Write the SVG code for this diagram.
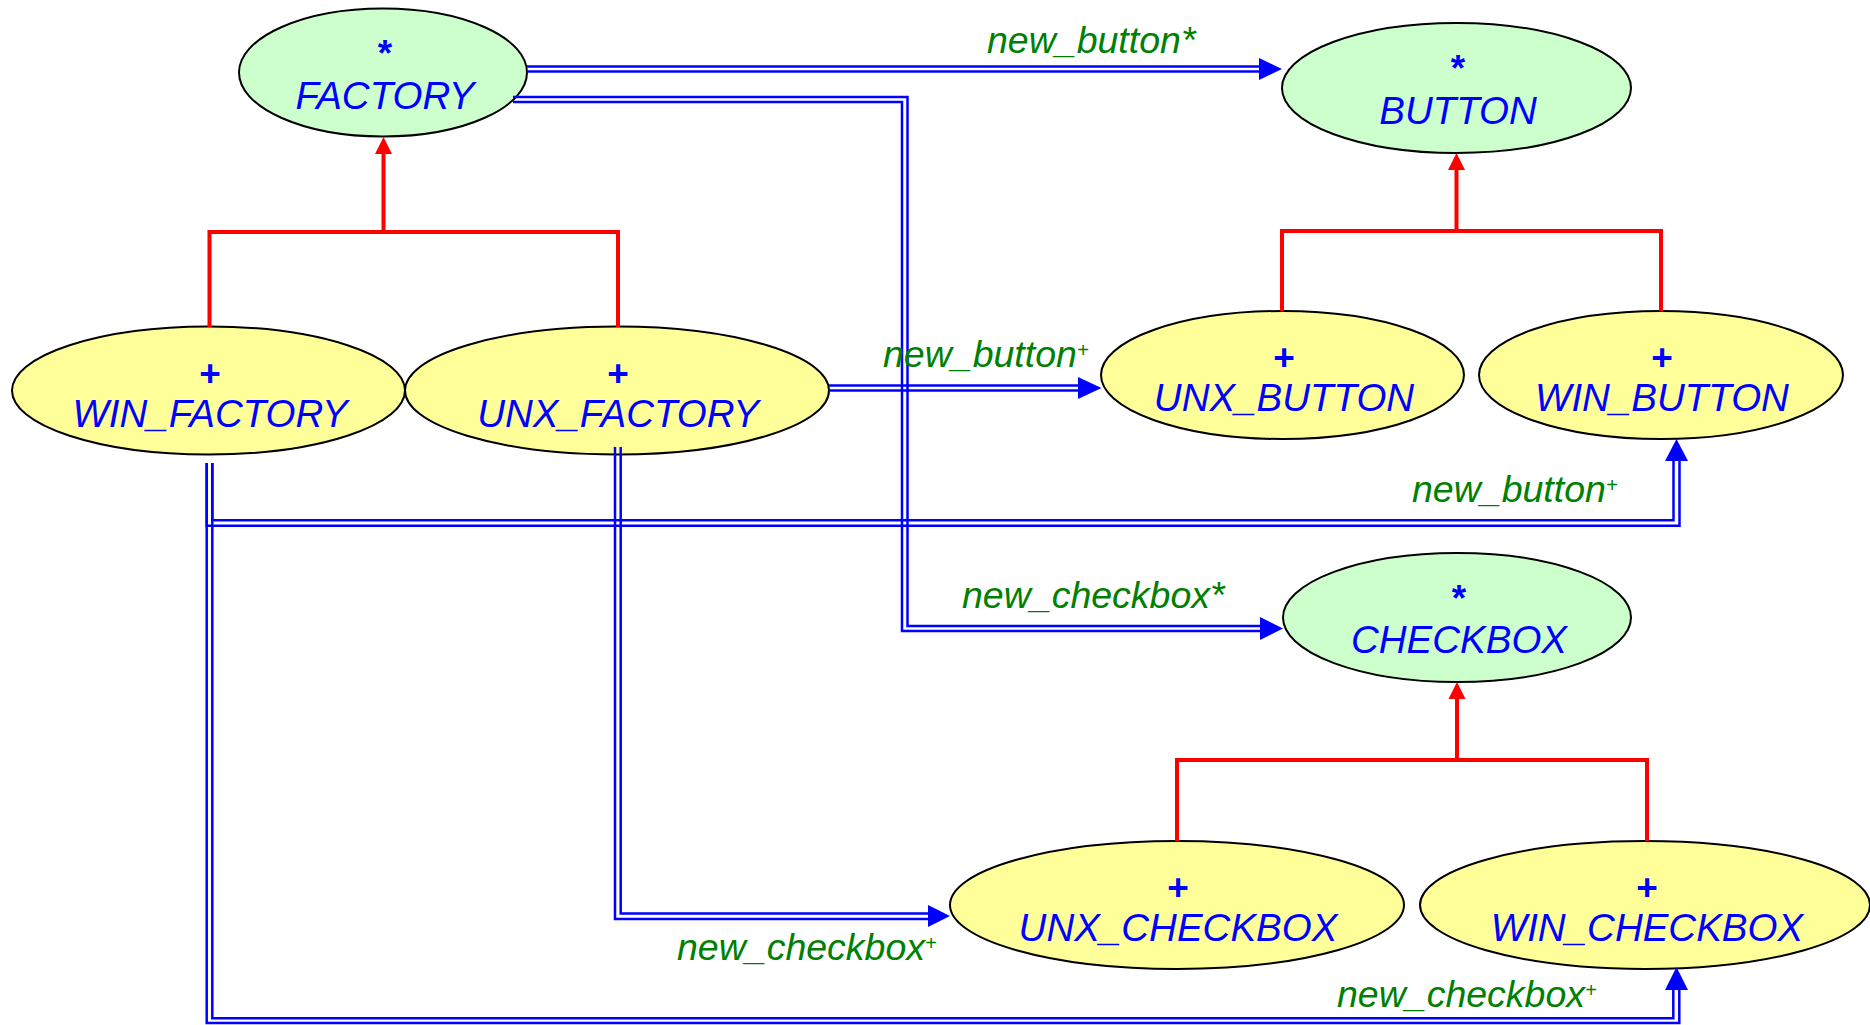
<svg xmlns="http://www.w3.org/2000/svg" width="1870" height="1025" viewBox="0 0 1870 1025">
  <style>
    .deferred { fill: #ccffcc; stroke: #000000; stroke-width: 2; }
    .effective { fill: #ffff99; stroke: #000000; stroke-width: 2; }
    .mark { font-family: "Liberation Sans", Arial, sans-serif; font-size: 37px; font-weight: bold; fill: #0000ff; text-anchor: middle; }
    .name { font-family: "Liberation Sans", Arial, sans-serif; font-size: 38.5px; font-style: italic; fill: #0000ff; text-anchor: middle; }
    .label { font-family: "Liberation Sans", Arial, sans-serif; font-size: 37.5px; font-style: italic; fill: #008000; }
    .sup { font-size: 20px; }
    .inherit { fill: none; stroke: #ff0000; stroke-width: 4; }
    .inherit-head { fill: #ff0000; }
    .client { fill: none; stroke: #0000ff; stroke-width: 2.5; }
    .client-head { fill: #0000ff; }
  </style>

  <!-- classes -->
  <g id="factory">
    <ellipse class="deferred" cx="383" cy="72.5" rx="144" ry="64"/>
    <text class="mark" x="385" y="66">*</text>
    <text class="name" x="385" y="109">FACTORY</text>
  </g>
  <g id="button">
    <ellipse class="deferred" cx="1456.5" cy="88" rx="174.5" ry="65"/>
    <text class="mark" x="1458" y="81">*</text>
    <text class="name" x="1458" y="124">BUTTON</text>
  </g>
  <g id="win_factory">
    <ellipse class="effective" cx="208.5" cy="390.5" rx="196.5" ry="64"/>
    <text class="mark" x="210" y="386">+</text>
    <text class="name" x="210" y="427">WIN_FACTORY</text>
  </g>
  <g id="unx_factory">
    <ellipse class="effective" cx="617" cy="390.5" rx="212" ry="64"/>
    <text class="mark" x="618" y="386">+</text>
    <text class="name" x="618" y="427">UNX_FACTORY</text>
  </g>
  <g id="unx_button">
    <ellipse class="effective" cx="1282.5" cy="375" rx="181.5" ry="64"/>
    <text class="mark" x="1284" y="370">+</text>
    <text class="name" x="1284" y="411">UNX_BUTTON</text>
  </g>
  <g id="win_button">
    <ellipse class="effective" cx="1661" cy="375" rx="182" ry="64"/>
    <text class="mark" x="1662" y="370">+</text>
    <text class="name" x="1662" y="411">WIN_BUTTON</text>
  </g>
  <g id="checkbox">
    <ellipse class="deferred" cx="1457" cy="617.5" rx="174" ry="64.5"/>
    <text class="mark" x="1459" y="611">*</text>
    <text class="name" x="1459" y="653">CHECKBOX</text>
  </g>
  <g id="unx_checkbox">
    <ellipse class="effective" cx="1177" cy="905" rx="227" ry="64"/>
    <text class="mark" x="1178" y="900">+</text>
    <text class="name" x="1178" y="941">UNX_CHECKBOX</text>
  </g>
  <g id="win_checkbox">
    <ellipse class="effective" cx="1645" cy="905" rx="225" ry="64"/>
    <text class="mark" x="1647" y="900">+</text>
    <text class="name" x="1647" y="941">WIN_CHECKBOX</text>
  </g>

  <!-- connectors -->
  <g id="connectors">
    <!-- inheritance -->
    <path class="inherit" d="M209.5,327 V232 H618 V327 M383.5,232 V151"/>
    <polygon class="inherit-head" points="383.5,137 392,154 375,154"/>
    <path class="inherit" d="M1282,311 V231 H1661 V311 M1456.5,231 V167"/>
    <polygon class="inherit-head" points="1456.5,153 1465,170 1448,170"/>
    <path class="inherit" d="M1177,841 V760 H1647 V841 M1457,760 V696"/>
    <polygon class="inherit-head" points="1457,682 1465.5,699 1448.5,699"/>

    <!-- FACTORY to BUTTON: new_button* -->
    <polyline class="client" points="527,66.5 1260,66.5"/>
    <polyline class="client" points="527,71.5 1260,71.5"/>
    <polygon class="client-head" points="1259,58 1282,69 1259,80"/>

    <!-- FACTORY to CHECKBOX: new_checkbox* -->
    <polyline class="client" points="513,97 907.5,97 907.5,626 1260,626"/>
    <polyline class="client" points="513,102 902,102 902,631 1260,631"/>
    <polygon class="client-head" points="1260,617 1283,628.5 1260,640"/>

    <!-- UNX_FACTORY to UNX_BUTTON: new_button+ -->
    <polyline class="client" points="829,385.5 1079,385.5"/>
    <polyline class="client" points="829,390.5 1079,390.5"/>
    <polygon class="client-head" points="1078,377 1101.5,388 1078,399"/>

    <!-- WIN_FACTORY to WIN_BUTTON: new_button+ -->
    <polyline class="client" points="206.7,463 206.7,525.7 1679.5,525.7 1679.5,460"/>
    <polyline class="client" points="212.3,463 212.3,520.3 1673.5,520.3 1673.5,460"/>
    <polygon class="client-head" points="1676.5,439 1688,461 1665,461"/>

    <!-- UNX_FACTORY to UNX_CHECKBOX: new_checkbox+ -->
    <polyline class="client" points="615,447 615,919 929,919"/>
    <polyline class="client" points="620.7,447 620.7,913.5 929,913.5"/>
    <polygon class="client-head" points="928,905 950,916 928,927"/>

    <!-- WIN_FACTORY to WIN_CHECKBOX: new_checkbox+ -->
    <polyline class="client" points="206.7,463 206.7,1023 1679.3,1023 1679.3,989"/>
    <polyline class="client" points="212.3,463 212.3,1018.3 1673.3,1018.3 1673.3,989"/>
    <polygon class="client-head" points="1676.5,967 1688,990 1665,990"/>

    <!-- feature labels -->
    <text class="label" x="987" y="53">new_button*</text>
    <text class="label" x="962" y="608">new_checkbox*</text>
    <text class="label" x="883" y="367">new_button<tspan class="sup" dy="-10">+</tspan></text>
    <text class="label" x="1412" y="502">new_button<tspan class="sup" dy="-10">+</tspan></text>
    <text class="label" x="677" y="960">new_checkbox<tspan class="sup" dy="-10">+</tspan></text>
    <text class="label" x="1337" y="1007">new_checkbox<tspan class="sup" dy="-10">+</tspan></text>
  </g>
</svg>
